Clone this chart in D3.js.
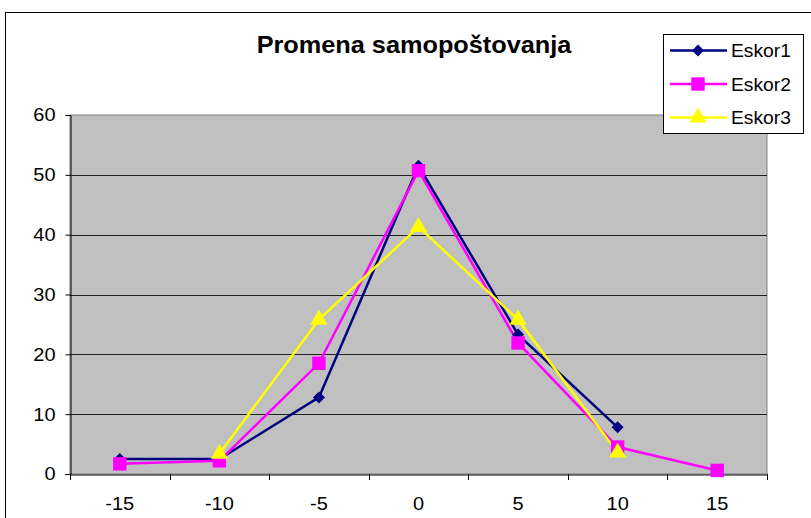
<!DOCTYPE html>
<html><head><meta charset="utf-8">
<script src="https://cdn.jsdelivr.net/npm/d3@7"></script>
<style>body{margin:0;background:#fff;}svg{display:block;font-family:Arial,"Liberation Sans",sans-serif;}</style>
</head><body>
<svg id="c" width="811" height="518"></svg>
<script>
const categories = ["-15","-10","-5","0","5","10","15"];
const eskor1 = [2.5, 2.5, 12.8, 51.5, 23.3, 7.8, null];
const eskor2 = [1.7, 2.2, 18.5, 50.7, 21.9, 4.5, 0.6];
const eskor3 = [null, 3.4, 25.8, 41.3, 25.8, 3.6, null];
const yTicks = [0,10,20,30,40,50,60];
const seriesNames = ["Eskor1","Eskor2","Eskor3"];
const seriesColors = ["#000080","#FF00FF","#FFFF00"];
const seriesShapes = [d3.symbolSquare, d3.symbolSquare, d3.symbolTriangle];
const seriesRot = [45, 0, 0];
const seriesSizes = [72, 180, 130];
const seriesData = [eskor1, eskor2, eskor3];
const SX = 1.08;
const FS = 18.5;
const FONT = "Arial,'Liberation Sans',sans-serif";

const svg = d3.select("#c");
svg.append("rect").attr("x",5.5).attr("y",12.5).attr("width",820).attr("height",520)
  .attr("fill","#fff").attr("stroke","#000").attr("stroke-width",1);

const L=70, R=767, T=115, B=474;
const x = d3.scaleBand().domain(categories).range([L,R]);
const y = d3.scaleLinear().domain([0,60]).range([B,T]);

svg.append("rect").attr("x",L).attr("y",T).attr("width",R-L).attr("height",B-T)
  .attr("fill","#C0C0C0").attr("stroke","#808080").attr("stroke-width",1);

svg.append("g").selectAll("line").data(yTicks.filter(d=>d>0 && d<60)).join("line")
  .attr("x1",L).attr("x2",R).attr("y1",d=>Math.round(y(d))+0.5).attr("y2",d=>Math.round(y(d))+0.5)
  .attr("stroke","#222").attr("stroke-width",1);

// y axis
const yAxis = d3.axisLeft(y).tickValues(yTicks).tickSize(5).tickPadding(8);
const gy = svg.append("g").attr("transform",`translate(${L+0.5},0)`).call(yAxis);
gy.select(".domain").attr("stroke","#000");
gy.selectAll("line").attr("stroke","#000");
gy.selectAll("text").attr("font-size",FS).attr("fill","#000").attr("font-family",FONT)
  .attr("x",-15/SX).attr("transform",`scale(${SX},1)`);

// x axis
const xAxis = d3.axisBottom(x).tickSize(0).tickPadding(0);
const gx = svg.append("g").attr("transform",`translate(0,${B+0.5})`).call(xAxis);
gx.select(".domain").attr("stroke","#000");
gx.selectAll("text").attr("font-size",FS).attr("fill","#000").attr("font-family",FONT)
  .attr("y",35.5).attr("dy",0).attr("transform",`scale(${SX},1)`);
const bounds = categories.map(c=>x(c)).concat([x(categories[categories.length-1])+x.bandwidth()]);
svg.append("g").selectAll("line").data(bounds).join("line")
  .attr("x1",d=>Math.round(d)+0.5).attr("x2",d=>Math.round(d)+0.5).attr("y1",B).attr("y2",B+6)
  .attr("stroke","#000");

const cx = c => x(c)+x.bandwidth()/2;
const line = d3.line().defined(d=>d.v!=null).x(d=>cx(d.c)).y(d=>y(d.v));

seriesData.forEach((arr,i)=>{
  const pts = categories.map((c,j)=>({c, v:arr[j]}));
  svg.append("path").datum(pts).attr("d",line).attr("fill","none")
    .attr("stroke",seriesColors[i]).attr("stroke-width",2.5).attr("stroke-linejoin","miter");
});
seriesData.forEach((arr,i)=>{
  const pts = categories.map((c,j)=>({c, v:arr[j]})).filter(d=>d.v!=null);
  svg.append("g").selectAll("path").data(pts).join("path")
    .attr("transform",d=>`translate(${cx(d.c)},${y(d.v)}) rotate(${seriesRot[i]})`)
    .attr("d",d3.symbol().type(seriesShapes[i]).size(seriesSizes[i]))
    .attr("fill",seriesColors[i]);
});

// title
svg.append("g").attr("transform",`translate(414,53) scale(1.1,1)`)
  .append("text").attr("text-anchor","middle")
  .attr("font-size",23).attr("font-weight","bold").attr("fill","#000").text("Promena samopoštovanja");

// legend
const lg = svg.append("g");
lg.append("rect").attr("x",663.5).attr("y",34.5).attr("width",140).attr("height",99)
  .attr("fill","#fff").attr("stroke","#000");
seriesNames.forEach((n,i)=>{
  const yy = 50.5 + i*33.5;
  lg.append("line").attr("x1",670).attr("x2",727).attr("y1",yy).attr("y2",yy)
    .attr("stroke",seriesColors[i]).attr("stroke-width",2.5);
  lg.append("path").attr("transform",`translate(698,${yy}) rotate(${seriesRot[i]})`)
    .attr("d",d3.symbol().type(seriesShapes[i]).size(seriesSizes[i])).attr("fill",seriesColors[i]);
  lg.append("g").attr("transform",`translate(731,${yy+6.5}) scale(1.04,1)`)
    .append("text").attr("font-size",FS).attr("fill","#000").text(n);
});
</script>
</body></html>
